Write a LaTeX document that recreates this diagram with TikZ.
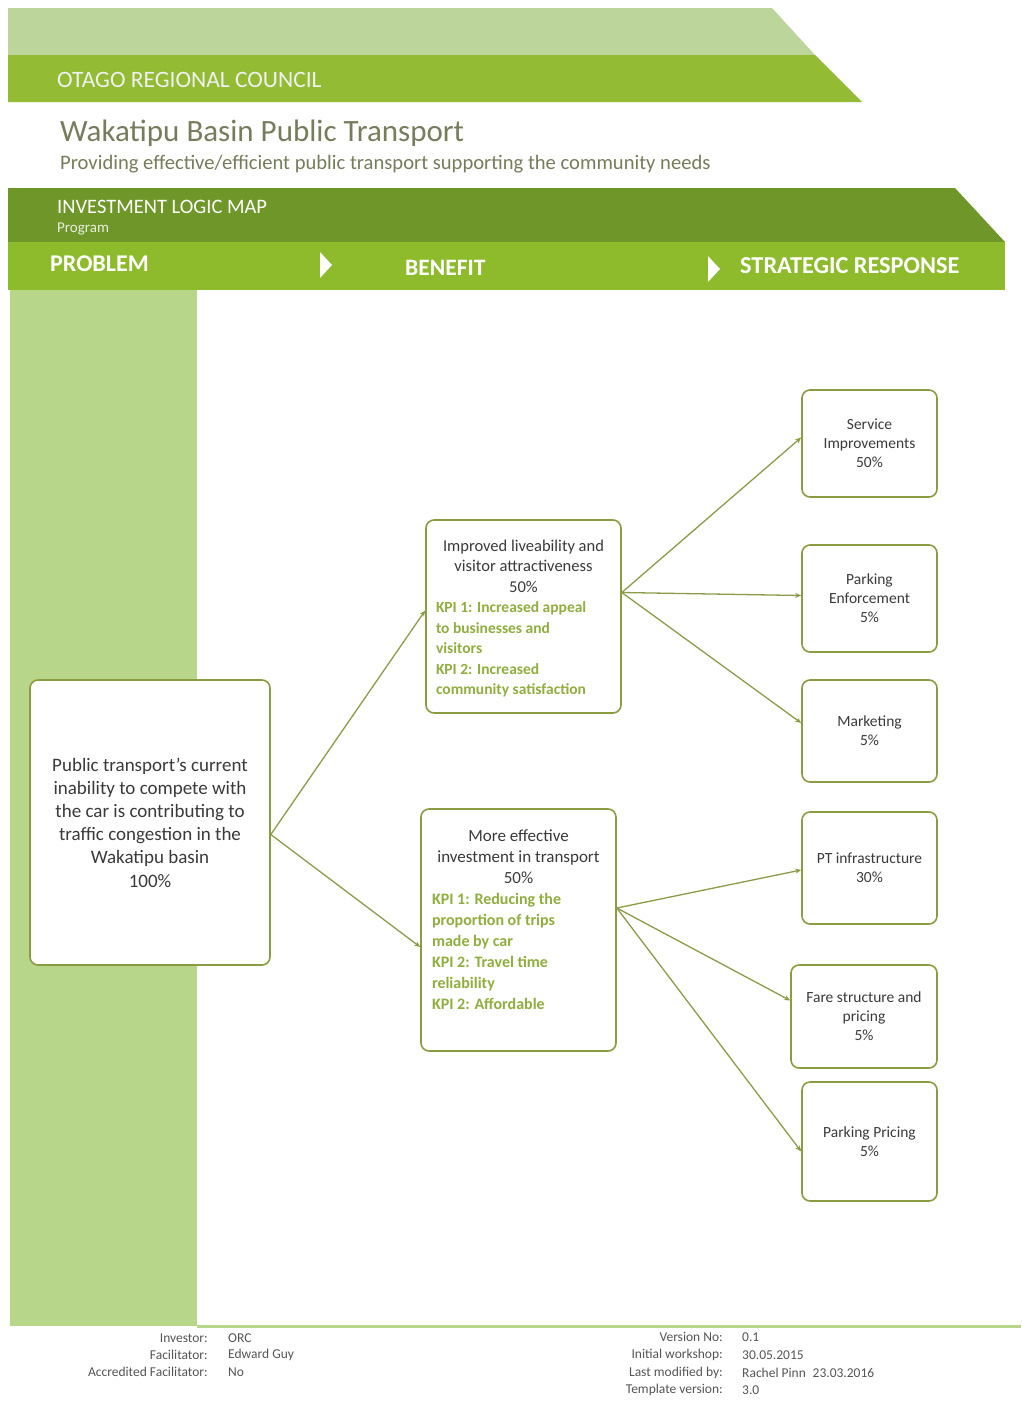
\documentclass[tikz,border=0pt]{standalone}
\usepackage{fontspec}
\setmainfont{Carlito}
\usetikzlibrary{arrows.meta}
\definecolor{lightband}{HTML}{BCD59A}
\definecolor{midband}{HTML}{93BB34}
\definecolor{darkband}{HTML}{6F9628}
\definecolor{headbar}{HTML}{8DBB2C}
\definecolor{leftcol}{HTML}{B8D68A}
\definecolor{titlecol}{HTML}{767D5C}
\definecolor{boxline}{HTML}{8A9C42}
\definecolor{conn}{HTML}{8A9C48}
\definecolor{kpi}{HTML}{8FAE3E}
\definecolor{nodetext}{HTML}{3A3A3A}
\definecolor{foot}{HTML}{555555}
\newcommand{\fs}[2]{\fontsize{#1pt}{#2pt}\selectfont}
\tikzset{
  box/.style={draw=boxline, line width=1.6pt, rounded corners=8pt, fill=white, text=nodetext, align=center, inner sep=0pt},
  srbox/.style={box, font=\fs{15.5}{19}},
  link/.style={draw=conn, line width=1.3pt, -{Stealth[length=6pt,width=5pt]}},
  headtext/.style={anchor=west, inner sep=0pt},
  footl/.style={anchor=east, inner sep=0pt, text=foot, font=\fs{13.5}{15}},
  footr/.style={anchor=west, inner sep=0pt, text=foot, font=\fs{13.5}{15}},
}
\begin{document}
\begin{tikzpicture}[x=1pt,y=-1pt]
\useasboundingbox (0,0) rectangle (1021,1401);
\fill[white] (0,0) rectangle (1021,1401);
% header bands
\fill[lightband] (8,8) -- (772,8) -- (815,55) -- (8,55) -- cycle;
\fill[midband] (8,55) -- (815,55) -- (862,102) -- (8,102) -- cycle;
\node[headtext, text=white!88!gray, font=\fs{23.5}{26}] (orc) at (57,80) {OTAGO REGIONAL COUNCIL};
\node[headtext, text=titlecol, font=\fs{31}{34}] (title) at (60,133) {Wakatipu Basin Public Transport};
\node[headtext, text=titlecol, font=\fs{20.6}{23}] (subtitle) at (60,164) {Providing effective/efficient public transport supporting the community needs};
\fill[darkband] (8,188) -- (955,188) -- (1005,242) -- (8,242) -- cycle;
\node[headtext, text=white, font=\fs{20.5}{23}] (ilm) at (57,207) {INVESTMENT LOGIC MAP};
\node[headtext, text=white!85!darkband, font=\fs{15}{17}] (prog) at (57,229) {Program};
\fill[headbar] (8,242) rectangle (1005,290);
\node[headtext, text=white, font=\bfseries\fs{24}{27}] (hprob) at (50,264) {PROBLEM};
\node[headtext, text=white, font=\bfseries\fs{23.5}{26}] (hben) at (405,268) {BENEFIT};
\node[headtext, text=white, font=\bfseries\fs{24.3}{27}] (hsr) at (740,266) {STRATEGIC RESPONSE};
\fill[white] (320,252) -- (332,265) -- (320,278) -- cycle;
\fill[white] (708,256) -- (720,269) -- (708,282) -- cycle;
% left column and bottom line
\fill[leftcol] (10,290) rectangle (197,1326);
\draw[leftcol, line width=3pt] (197,1326) -- (1021,1326);
% problem
\node[box, minimum width=240pt, minimum height=285pt, font=\fs{19}{23.2}] (prob) at (150,822.5)
  {Public transport's current\\inability to compete with\\the car is contributing to\\traffic congestion in the\\Wakatipu basin\\100\%};
% benefits
\node[box, minimum width=195pt, minimum height=193pt] (ben1) at (523.5,616.5)
  {\begin{minipage}{175pt}\vspace{4pt}\fs{16.5}{20.5}\centering Improved liveability and\\visitor attractiveness\\50\%\par
   \raggedright\color{kpi}\bfseries\fs{15.5}{20.5} KPI 1: Increased appeal\\to businesses and\\visitors\\KPI 2: Increased\\community satisfaction\par\end{minipage}};
\node[box, minimum width=195pt, minimum height=242pt] (ben2) at (518.5,930)
  {\begin{minipage}{173pt}\fs{17}{21}\centering More effective\\investment in transport\\50\%\par
   \raggedright\color{kpi}\bfseries\fs{16}{21} KPI 1: Reducing the\\proportion of trips\\made by car\\KPI 2: Travel time\\reliability\\KPI 2: Affordable\par\vspace{20pt}\end{minipage}};
% strategic responses
\node[srbox, minimum width=135pt, minimum height=107pt] (sr1) at (869.5,443.5) {Service\\Improvements\\50\%};
\node[srbox, minimum width=135pt, minimum height=107pt] (sr2) at (869.5,598.5) {Parking\\Enforcement\\5\%};
\node[srbox, minimum width=135pt, minimum height=102pt] (sr3) at (869.5,731) {Marketing\\5\%};
\node[srbox, minimum width=135pt, minimum height=112pt] (sr4) at (869.5,868) {PT infrastructure\\30\%};
\node[srbox, minimum width=146pt, minimum height=103pt] (sr5) at (864,1016.5) {Fare structure and\\pricing\\5\%};
\node[srbox, minimum width=135pt, minimum height=119pt] (sr6) at (869.5,1141.5) {Parking Pricing\\5\%};
% connectors
\coordinate (pr) at ([yshift=-12pt]prob.east);
\draw[link] (pr) -- ([yshift=6pt]ben1.west);
\draw[link] (pr) -- ([yshift=-17pt]ben2.west);
\coordinate (b1) at ([yshift=24pt]ben1.east);
\draw[link] (b1) -- ([yshift=6pt]sr1.west);
\draw[link] (b1) -- ([yshift=3pt]sr2.west);
\draw[link] (b1) -- ([yshift=8pt]sr3.west);
\coordinate (b2) at ([yshift=22pt]ben2.east);
\draw[link] (b2) -- ([yshift=-2pt]sr4.west);
\draw[link] (b2) -- ([yshift=16pt]sr5.west);
\draw[link] (b2) -- ([yshift=-10pt]sr6.west);
% footer
\node[footl] (f1l) at (208,1338) {Investor:};
\node[footr] (f1r) at (228,1338) {ORC};
\node[footl] (f2l) at (208,1355) {Facilitator:};
\node[footr] (f2r) at (228,1355) {Edward Guy};
\node[footl] (f3l) at (208,1372) {Accredited Facilitator:};
\node[footr] (f3r) at (228,1372) {No};
\node[footl] (g1l) at (723,1337) {Version No:};
\node[footr] (g1r) at (742,1337) {0.1};
\node[footl] (g2l) at (723,1355) {Initial workshop:};
\node[footr] (g2r) at (742,1355) {30.05.2015};
\node[footl] (g3l) at (723,1373) {Last modified by:};
\node[footr] (g3r) at (742,1373) {Rachel Pinn\enspace 23.03.2016};
\node[footl] (g4l) at (723,1390) {Template version:};
\node[footr] (g4r) at (742,1390) {3.0};
\end{tikzpicture}
\end{document}
